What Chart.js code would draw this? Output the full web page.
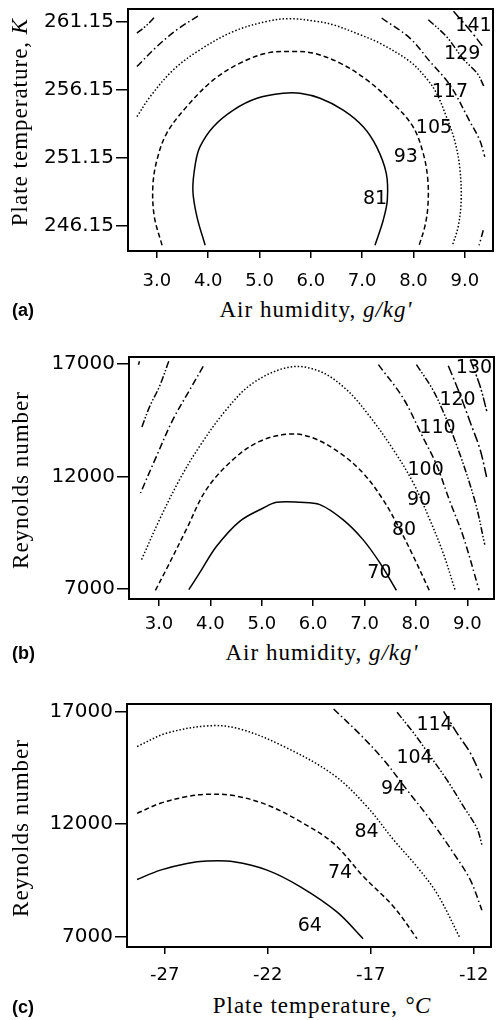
<!DOCTYPE html>
<html>
<head>
<meta charset="utf-8">
<script src="https://cdn.jsdelivr.net/npm/chart.js@4.4.1/dist/chart.umd.min.js"></script>
<style>
  body { margin: 0; background: #fff; width: 496px; height: 1020px; position: relative; overflow: hidden; }
  canvas { position: absolute; left: 0; }
  .t { position: absolute; font-family: "Liberation Serif", serif; font-size: 23px; color: #000;
       white-space: nowrap; transform: translate(-50%, -50%); letter-spacing: 1px; }
  .yt { transform: translate(-50%, -50%) rotate(-90deg); }
  .p { position: absolute; font-family: "Liberation Sans", Arial, sans-serif; font-weight: bold;
       font-size: 18px; transform: translateY(-50%); }
</style>
</head>
<body>
<canvas id="ca" width="496" height="290" style="top:0"></canvas>
<canvas id="cb" width="496" height="290" style="top:340px"></canvas>
<canvas id="cc" width="496" height="300" style="top:690px"></canvas>

<div class="t yt" style="left:20px;top:122px">Plate temperature, <i>K</i></div>
<div class="t" style="left:316px;top:310px">Air humidity, <i>g/kg'</i></div>
<div class="p" style="left:12px;top:310px">(a)</div>

<div class="t yt" style="left:21px;top:480px">Reynolds number</div>
<div class="t" style="left:322px;top:653px">Air humidity, <i>g/kg'</i></div>
<div class="p" style="left:12px;top:653px">(b)</div>

<div class="t yt" style="left:21px;top:828px">Reynolds number</div>
<div class="t" style="left:322px;top:1006px">Plate temperature, <i>°C</i></div>
<div class="p" style="left:12px;top:1007px">(c)</div>

<script>
// ---- panel (a): plate temperature (K) vs air humidity ----
const levelsA = [81, 93, 105, 117, 129, 141]
const a81 = [[3.94,244.73],[3.78,246.81],[3.70,248.77],[3.75,250.73],[3.84,251.96],[4.10,253.43],[4.49,254.65],[4.95,255.51],[5.46,255.88],[5.79,255.88],[6.18,255.51],[6.63,254.65],[7.02,253.43],[7.28,251.96],[7.47,250.0],[7.49,248.04],[7.41,246.57],[7.25,244.73]]
const a93 = [[3.10,244.73],[2.95,246.81],[2.92,249.02],[3.0,250.98],[3.19,252.94],[3.58,254.90],[4.10,256.86],[4.62,258.09],[5.14,258.82],[5.66,258.94],[6.05,258.82],[6.57,258.09],[7.09,256.86],[7.60,255.15],[7.99,253.43],[8.19,251.47],[8.28,249.51],[8.28,247.55],[8.22,246.08],[8.11,244.73]]
const a105 = [[2.61,254.16],[2.87,255.64],[3.32,257.60],[3.84,259.07],[4.49,260.41],[5.14,261.15],[5.59,261.35],[6.11,261.15],[6.44,260.9],[6.96,260.17],[7.34,259.56],[7.93,258.21],[8.25,256.98],[8.45,255.88],[8.64,254.17],[8.80,252.45],[8.90,250.49],[8.93,248.04],[8.87,246.08],[8.76,244.73]]
const a117L = [[2.61,257.84],[3.0,259.31],[3.39,260.54],[3.84,261.64]]
const a117R = [[7.38,261.40],[7.93,259.92],[8.32,258.21],[8.71,256.49],[9.10,253.80],[9.29,252.45],[9.39,251.22]]
const a117B = [[9.36,245.83],[9.28,244.73]]
const a129L = [[2.61,260.29],[2.81,260.90],[2.97,261.52]]
const a129R = [[8.29,261.27],[8.64,260.05],[8.97,258.4],[9.25,257.3],[9.37,256.4]]
const a141 = [[8.78,261.9],[9.0,260.95],[9.2,260.05],[9.34,259.36]]
const labelXA = [7.25, 7.85, 8.40, 8.71, 8.95, 9.17]
const labelYA = [248.09, 251.22, 253.36, 256.0, 258.77, 260.78]
const ticksAx = [3, 4, 5, 6, 7, 8, 9]
const ticksAy = [246.15, 251.15, 256.15, 261.15]

// ---- panel (b): Reynolds number vs air humidity ----
const levelsB = [70, 80, 90, 100, 110, 120, 130]
const b70 = [[3.58,6972],[3.79,7712],[4.12,8895],[4.57,10004],[5.03,10596],[5.29,10847],[5.74,10847],[6.13,10744],[6.58,10078],[6.97,9191],[7.30,8156],[7.62,6943]]
const b80 = [[2.93,6943],[3.14,7860],[3.53,9634],[3.92,11409],[4.44,12740],[4.96,13554],[5.55,13879],[6.0,13702],[6.52,13036],[6.97,12149],[7.36,10966],[7.69,9634],[7.95,8451],[8.26,6943]]
const b90 = [[2.66,8303],[3.01,10078],[3.40,11853],[3.79,13332],[4.31,14959],[4.83,16142],[5.55,16852],[6.13,16660],[6.65,15846],[7.10,14663],[7.56,13184],[7.95,11705],[8.27,10078],[8.53,8599],[8.76,6972]]
const b100L = [[3.86,16882],[3.60,15846],[3.27,14515],[2.95,12888],[2.64,11261]]
const b100R = [[7.27,16956],[7.75,15477],[8.11,13850],[8.40,12519],[8.66,10892],[8.92,9339],[9.23,6943]]
const b110L = [[3.19,17104],[3.01,15994],[2.82,15107],[2.66,14146]]
const b110R = [[8.01,16956],[8.31,15920],[8.50,15033],[8.79,13406],[9.15,10892],[9.34,8969]]
const b120L = [[2.62,17104],[2.60,16956]]
const b120R = [[8.63,16911],[8.86,15625],[9.05,14441],[9.25,13184],[9.38,11927]]
const b130 = [[9.06,17177],[9.25,15994],[9.38,14885]]
const labelXB = [7.29, 7.77, 8.06, 8.19, 8.42, 8.81, 9.13]
const labelYB = [7712, 9634, 10936, 12297, 14131, 15373, 16808]
const ticksBx = [3, 4, 5, 6, 7, 8, 9]
const ticksBy = [7000, 12000, 17000]

// ---- panel (c): Reynolds number vs plate temperature (°C) ----
const levelsC = [64, 74, 84, 94, 104, 114]
const c64 = [[-28.34,9548],[-27.21,9963],[-25.92,10259],[-24.95,10363],[-23.65,10333],[-22.03,9963],[-20.41,9222],[-18.64,8111],[-17.37,6926]]
const c74 = [[-28.34,12481],[-27.21,12926],[-25.92,13222],[-24.95,13326],[-23.65,13267],[-22.03,12852],[-20.41,12111],[-18.80,11148],[-17.34,9667],[-15.88,8333],[-14.75,6926]]
const c84 = [[-28.34,15444],[-26.89,16037],[-24.78,16363],[-23.33,16215],[-21.22,15444],[-18.80,14185],[-17.18,12778],[-15.88,11296],[-14.75,10111],[-13.78,8926],[-12.65,6926]]
const c94 = [[-18.80,17104],[-17.50,15963],[-16.37,14852],[-15.24,13519],[-14.10,12185],[-12.97,10704],[-12.16,9519],[-11.60,8185]]
const c104 = [[-15.72,16956],[-14.91,16037],[-14.10,15000],[-13.30,13963],[-12.49,12778],[-11.84,11815],[-11.60,11074]]
const c114 = [[-13.46,17000],[-12.81,16037],[-12.16,15148],[-11.60,14037]]
const labelXC = [-19.96, -18.49, -17.20, -15.91, -14.87, -13.90]
const labelYC = [7474, 9815, 11667, 13548, 14926, 16407]
const ticksCx = [-27, -22, -17, -12]
const ticksCy = [7000, 12000, 17000]

// one dash pattern per contour level, lowest level solid
const dashes = [[], [5, 3], [1.5, 2], [7, 3, 1.5, 3], [7, 2, 1.5, 2, 1.5, 2], [10, 3, 2, 3], [10, 2, 2, 2, 2, 2]]

const framePlugin = {
  id: "frame",
  afterDraw(chart) {
    const { ctx, chartArea: a } = chart
    ctx.save()
    ctx.strokeStyle = "#000"
    ctx.lineWidth = 2
    ctx.strokeRect(a.left, a.top, a.right - a.left, a.bottom - a.top)
    ctx.restore()
  },
}

const contourLabels = {
  id: "contourLabels",
  afterDatasetsDraw(chart, args, opts) {
    const { ctx, scales } = chart
    ctx.save()
    ctx.fillStyle = "#000"
    ctx.font = "19px 'DejaVu Sans'"
    ctx.textAlign = "center"
    ctx.textBaseline = "middle"
    opts.levels.forEach((lv, i) => {
      ctx.fillText(String(lv), scales.x.getPixelForValue(opts.xs[i]), scales.y.getPixelForValue(opts.ys[i]))
    })
    ctx.restore()
  },
}

function makeChart(id, cfg) {
  const datasets = cfg.pieces.map(([lv, pts]) => ({
    data: pts.map(([x, y]) => ({ x, y })),
    showLine: true,
    borderColor: "#000",
    borderWidth: 1.5,
    borderDash: dashes[lv],
    pointRadius: 0,
    tension: 0.35,
    fill: false,
  }))

  return new Chart(document.getElementById(id), {
    type: "scatter",
    data: { datasets },
    plugins: [framePlugin, contourLabels],
    options: {
      responsive: false,
      animation: false,
      layout: { padding: { top: cfg.top, right: cfg.right, left: 0, bottom: 0 } },
      plugins: {
        legend: { display: false },
        tooltip: { enabled: false },
        contourLabels: { levels: cfg.levels, xs: cfg.lx, ys: cfg.ly },
      },
      scales: {
        x: {
          type: "linear",
          min: cfg.xmin,
          max: cfg.xmax,
          border: { display: false },
          grid: { drawOnChartArea: false, color: "#000", lineWidth: 1.5, tickLength: 7 },
          afterBuildTicks: (s) => { s.ticks = cfg.xt.map((v) => ({ value: v })) },
          afterFit: (s) => { s.height = cfg.xh; s.paddingLeft = 0; s.paddingRight = 0 },
          ticks: {
            autoSkip: false,
            maxRotation: 0,
            color: "#000",
            padding: cfg.xpad,
            font: { family: "DejaVu Sans", size: 18 },
            callback: cfg.xf,
          },
        },
        y: {
          type: "linear",
          min: cfg.ymin,
          max: cfg.ymax,
          border: { display: false },
          grid: { drawOnChartArea: false, color: "#000", lineWidth: 1.5, tickLength: 12 },
          afterBuildTicks: (s) => { s.ticks = cfg.yt.map((v) => ({ value: v })) },
          afterFit: (s) => { s.width = cfg.left; s.paddingTop = 0; s.paddingBottom = 0 },
          ticks: {
            autoSkip: false,
            color: "#000",
            padding: 2,
            font: { family: "DejaVu Sans", size: 20 },
            callback: cfg.yf,
          },
        },
      },
    },
  })
}

makeChart("ca", {
  pieces: [[0, a81], [1, a93], [2, a105], [3, a117L], [3, a117R], [3, a117B], [4, a129L], [4, a129R], [5, a141]],
  levels: levelsA, lx: labelXA, ly: labelYA,
  xt: ticksAx, yt: ticksAy,
  xmin: 2.436, xmax: 9.55, ymin: 244.31, ymax: 262.06,
  top: 9, right: 3, left: 128, xh: 39, xpad: 13,
  xf: (v) => v.toFixed(1), yf: (v) => v.toFixed(2),
})

makeChart("cb", {
  pieces: [[0, b70], [1, b80], [2, b90], [3, b100L], [3, b100R], [4, b110L], [4, b110R], [5, b120L], [5, b120R], [6, b130]],
  levels: levelsB, lx: labelXB, ly: labelYB,
  xt: ticksBx, yt: ticksBy,
  xmin: 2.416, xmax: 9.52, ymin: 6556, ymax: 17296,
  top: 17, right: 2, left: 129, xh: 31, xpad: 8,
  xf: (v) => v.toFixed(1), yf: (v) => String(v),
})

makeChart("cc", {
  pieces: [[0, c64], [1, c74], [2, c84], [3, c94], [4, c104], [5, c114]],
  levels: levelsC, lx: labelXC, ly: labelYC,
  xt: ticksCx, yt: ticksCy,
  xmin: -28.83, xmax: -11.16, ymin: 6556, ymax: 17326,
  top: 14, right: 5, left: 127, xh: 43, xpad: 11,
  xf: (v) => String(v), yf: (v) => String(v),
})
</script>
</body>
</html>
